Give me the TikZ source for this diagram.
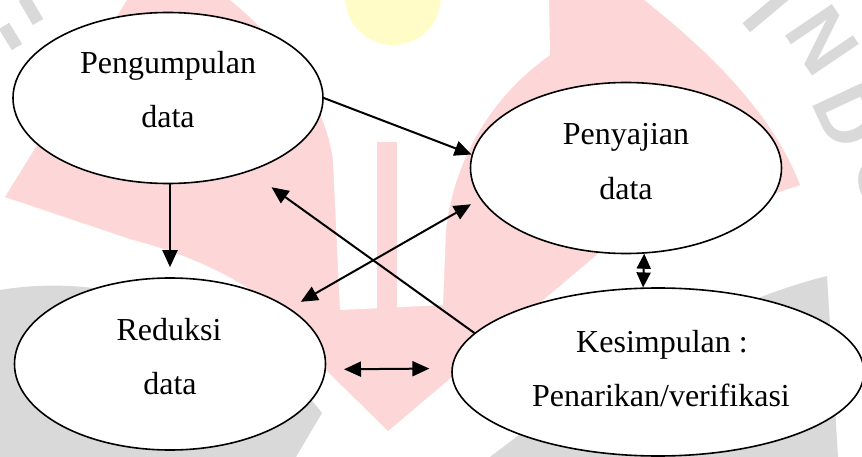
\documentclass[tikz,border=0pt]{standalone}
\usepackage{fontspec}
\setmainfont{Liberation Serif}
\newfontfamily\wmfont{Liberation Sans}
\usetikzlibrary{arrows.meta,shapes.geometric}
\definecolor{wmpink}{RGB}{253,215,215}
\definecolor{wmgrey}{RGB}{217,217,217}
\definecolor{wmyellow}{RGB}{255,252,200}
\begin{document}
\begin{tikzpicture}[x=1pt,y=-1pt,
  ell/.style={ellipse, draw=black, fill=white, line width=1.6pt, inner sep=0pt},
  lbl/.style={anchor=base, font=\fontsize{32}{38}\selectfont, inner sep=0pt},
  wmletter/.style={text=wmgrey, font=\wmfont\bfseries\fontsize{82}{82}\selectfont, inner sep=0pt},
  arr/.style={line width=2pt, -{Triangle[length=17pt,width=15pt]}},
  darr/.style={line width=2pt, {Triangle[length=17pt,width=15pt]}-{Triangle[length=17pt,width=15pt]}},
  sdarr/.style={line width=2pt, {Triangle[length=15pt,width=14pt]}-{Triangle[length=15pt,width=14pt]}}]
\useasboundingbox (0,0) rectangle (862,457);
\fill[white] (0,0) rectangle (862,457);
% ---- faded watermark ----
\begin{scope}
\clip (0,0) rectangle (862,457);
\fill[wmpink] (127,0) -- (644,0) .. controls (720,60) and (775,120) .. (800,185)
  -- (600,252) -- (388,431) -- (327,371)
  .. controls (300,310) and (220,262) .. (133,240) -- (5,197) -- cycle;
\fill[white] (230,0) .. controls (280,40) and (325,100) .. (333,160) -- (340,310)
  -- (443,305) -- (446,230) .. controls (455,150) and (500,90) .. (550,55) -- (549,0) -- cycle;
\fill[wmpink] (377,142) rectangle (397,330);
\fill[wmyellow] (393,-3) circle[radius=48];
\fill[wmgrey] (0,290) .. controls (120,270) and (250,320) .. (322,413) -- (296,457) -- (0,457) -- cycle;
\fill[wmgrey] (490,457) -- (515,438) .. controls (620,360) and (730,300) .. (827,276) -- (838,457) -- cycle;
\draw[wmgrey, line width=12pt] (4,26) -- (17,47);
\draw[wmgrey, line width=12pt] (24,-2) -- (38,22);
\node[wmletter, rotate=-50] (wmI) at (768,10) {I};
\node[wmletter, rotate=-56] (wmN) at (822,40) {N};
\node[wmletter, rotate=-65] (wmD) at (849,116) {D};
\node[wmletter, rotate=-75] (wmO) at (888,182) {O};
\end{scope}
% ---- diagram ----
\node[ell, minimum width=310pt, minimum height=171pt] (pk) at (168,98) {};
\node[ell, minimum width=311pt, minimum height=171pt] (py) at (626,168) {};
\node[ell, minimum width=311pt, minimum height=172pt] (rd) at (170,364) {};
\node[ell, minimum width=412pt, minimum height=168pt] (ks) at (658,372) {};
\node[lbl] (pk1) at (168,74) {Pengumpulan};
\node[lbl] (pk2) at (168,128) {data};
\node[lbl] (py1) at (626,145) {Penyajian};
\node[lbl] (py2) at (626,200) {data};
\node[lbl] (rd1) at (169,340) {Reduksi};
\node[lbl] (rd2) at (170,394) {data};
\node[lbl] (ks1) at (662,352) {Kesimpulan :};
\node[lbl] (ks2) at (661,406) {Penarikan/verifikasi};
\draw[arr] (pk.east) -- (py.175);
\draw[arr, shorten >=10pt] (pk.south -| rd.north) -- (rd.north);
\draw[arr, shorten >=27pt] (ks.168.2) -- (pk.-42.35);
\draw[darr, shorten <=12.8pt, shorten >=10.6pt] (rd.25.9) -- (py.-168.5);
\draw[darr, shorten <=18pt, shorten >=22pt] (rd.-2.2) -- (ks.179.4);
\draw[sdarr] (py.-78.7) -- (ks.100.1);
\end{tikzpicture}
\end{document}
